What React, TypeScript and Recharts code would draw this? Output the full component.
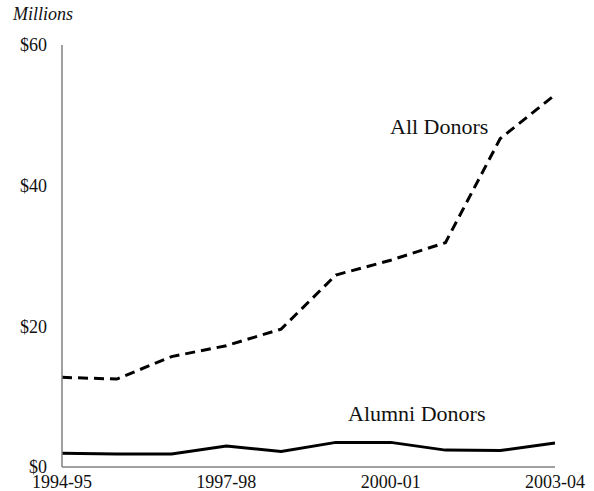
import { LineChart, Line, XAxis, YAxis } from "recharts";

const years = [
  "1994-95", "1995-96", "1996-97", "1997-98", "1998-99",
  "1999-00", "2000-01", "2001-02", "2002-03", "2003-04",
];
const allDonors = [12.75, 12.5, 15.7, 17.25, 19.6, 27.3, 29.4, 31.9, 46.7, 52.9];
const alumniDonors = [1.95, 1.85, 1.85, 3.0, 2.2, 3.5, 3.5, 2.4, 2.35, 3.4];
const yTicks = [0, 20, 40, 60];

const FONT = '"Liberation Serif", "Times New Roman", serif';

export default function App() {
  const data = years.map((year, i) => ({
    year,
    all: allDonors[i],
    alumni: alumniDonors[i],
  }));

  return (
    <div style={{ position: "absolute", left: 0, top: 0, width: 594, height: 491, background: "#fff", fontFamily: FONT }}>
      <LineChart width={594} height={491} data={data} margin={{ top: 45, right: 39, bottom: 0, left: 0 }}>
        <XAxis
          dataKey="year"
          interval={2}
          padding={{ left: 0, right: 0 }}
          stroke="#808080"
          strokeWidth={1.5}
          tickLine={false}
          tickSize={0}
          tickMargin={8}
          height={24}
          tick={{ fill: "#111", fontSize: 18, fontFamily: FONT }}
        />
        <YAxis
          domain={[0, 60]}
          ticks={yTicks}
          width={62}
          stroke="#808080"
          strokeWidth={1.5}
          tickLine={false}
          tickSize={0}
          tickMargin={15}
          tickFormatter={(v: number) => `$${v}`}
          tick={{ fill: "#111", fontSize: 18, fontFamily: FONT }}
        />
        <Line
          dataKey="all"
          stroke="#000"
          strokeWidth={3}
          strokeDasharray="10 6"
          dot={false}
          isAnimationActive={false}
        />
        <Line
          dataKey="alumni"
          stroke="#000"
          strokeWidth={3}
          dot={false}
          isAnimationActive={false}
        />
      </LineChart>
      <div style={{ position: "absolute", left: 13, top: 4, fontSize: 18, fontStyle: "italic", color: "#111", fontFamily: FONT }}>Millions</div>
      <div style={{ position: "absolute", left: 390, top: 114, fontSize: 22, color: "#111", whiteSpace: "nowrap", fontFamily: FONT }}>All Donors</div>
      <div style={{ position: "absolute", left: 348, top: 401, fontSize: 22, color: "#111", whiteSpace: "nowrap", fontFamily: FONT }}>Alumni Donors</div>
    </div>
  );
}
